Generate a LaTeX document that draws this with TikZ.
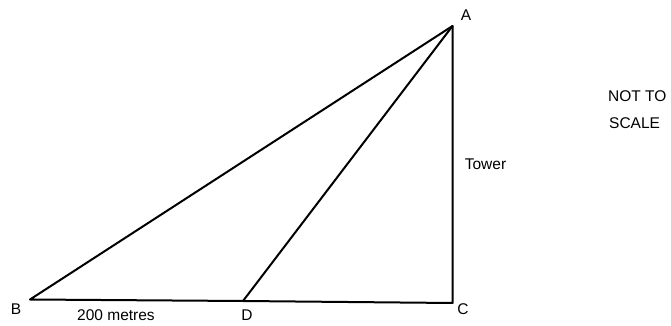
\documentclass[tikz,border=0pt]{standalone}
\usepackage{fontspec}
\setmainfont{Liberation Sans}
\begin{document}
\begin{tikzpicture}[x=1pt,y=1pt,
  edge/.style={line width=2pt,line join=round,line cap=round},
  lbl/.style={inner sep=0pt,font=\fontsize{15.5}{18}\selectfont}]
\useasboundingbox (0,0) rectangle (671,326);
\coordinate (A) at (452.5,300);
\coordinate (B) at (30,26.5);
\coordinate (D) at (243,25);
\coordinate (C) at (452.5,23);
\draw[edge] (B) -- (A) -- (C) -- (D) -- (B);
\draw[edge] (A) -- (D);
\node[lbl] (lA) at (466,310.5) {A};
\node[lbl] (lB) at (16,17) {B};
\node[lbl] (lD) at (247,10.5) {D};
\node[lbl] (lC) at (463,17) {C};
\node[lbl] (l200) at (116,10.5) {200 metres};
\node[lbl] (ltower) at (485.5,162) {Tower};
\node[lbl,anchor=west] (lnot) at (608,230) {NOT TO};
\node[lbl,anchor=west] (lscale) at (609,202.5) {SCALE};
\end{tikzpicture}
\end{document}
